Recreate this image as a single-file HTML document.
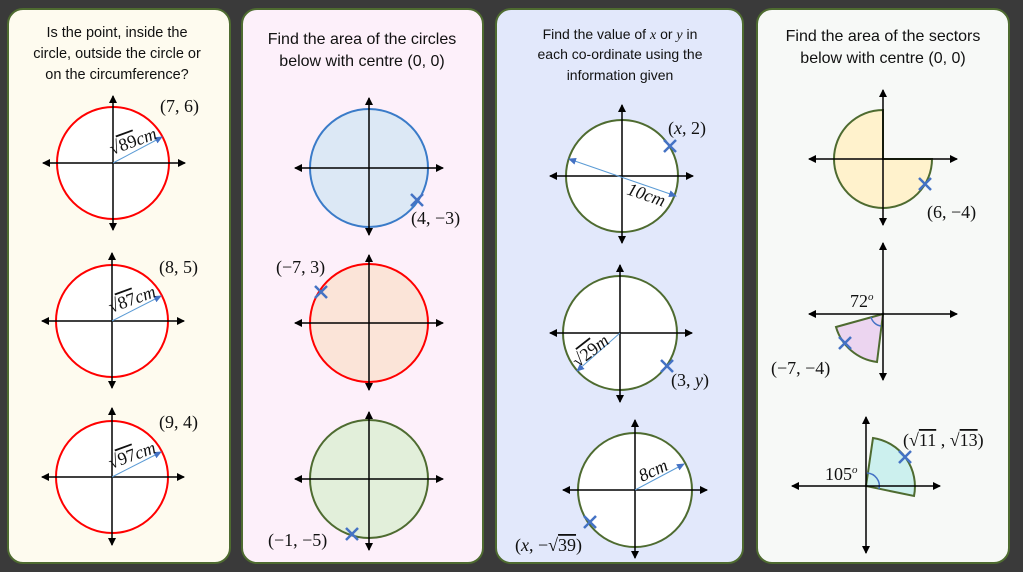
<!DOCTYPE html>
<html><head><meta charset="utf-8"><style>
html,body{margin:0;padding:0;background:#3a3a3a;}
svg{display:block;}
.t{font-family:"Liberation Sans",sans-serif;fill:#111;text-anchor:middle;}
.m{font-family:"Liberation Serif",serif;font-size:18px;fill:#111;}
.ax{stroke:#000;stroke-width:1.5;fill:none;}
.x{stroke:#4472c4;stroke-width:2.5;}
</style></head><body>
<svg width="1023" height="572" viewBox="0 0 1023 572" xmlns="http://www.w3.org/2000/svg">
<defs>
<marker id="ah" markerWidth="8" markerHeight="8" refX="7" refY="4" orient="auto-start-reverse" markerUnits="userSpaceOnUse"><path d="M0,0 L8,4 L0,8 Z" fill="#000"/></marker>
<marker id="bh" markerWidth="8" markerHeight="8" refX="7" refY="4" orient="auto-start-reverse" markerUnits="userSpaceOnUse"><path d="M0,0.5 L8,4 L0,7.5 Z" fill="#4472c4"/></marker>
</defs>
<rect x="0" y="0" width="1023" height="572" fill="#3a3a3a"/>
<rect x="8" y="9" width="222" height="554" rx="15" fill="#fefbef" stroke="#4e6b30" stroke-width="2"/>
<rect x="242" y="9" width="241" height="554" rx="15" fill="#fdf0fa" stroke="#4e6b30" stroke-width="2"/>
<rect x="496" y="9" width="247" height="554" rx="15" fill="#e2e8fb" stroke="#4e6b30" stroke-width="2"/>
<rect x="757" y="9" width="252" height="554" rx="15" fill="#f7f9f7" stroke="#4e6b30" stroke-width="2"/>

<text class="t" font-size="14.5" x="117" y="37">Is the point, inside the</text>
<text class="t" font-size="14.5" x="117" y="58">circle, outside the circle  or</text>
<text class="t" font-size="14.5" x="117" y="79">on the circumference?</text>
<text class="t" font-size="16" x="362" y="44">Find the area of the circles</text>
<text class="t" font-size="16" x="362" y="66">below with centre (0, 0)</text>
<text class="t" font-size="14" x="620" y="39">Find the value of <tspan font-family="Liberation Serif" font-style="italic">x</tspan> or <tspan font-family="Liberation Serif" font-style="italic">y</tspan> in</text>
<text class="t" font-size="14" x="620" y="59">each co-ordinate using the</text>
<text class="t" font-size="14" x="620" y="80">information given</text>
<text class="t" font-size="16" x="883" y="41">Find the area of the sectors</text>
<text class="t" font-size="16" x="883" y="63">below with centre (0, 0)</text>

<g>
<circle cx="113" cy="163" r="56" fill="#fff" stroke="#ff0000" stroke-width="2"/>
<line class="ax" x1="113" y1="230" x2="113" y2="96" marker-end="url(#ah)" marker-start="url(#ah)"/>
<line class="ax" x1="43" y1="163" x2="185" y2="163" marker-end="url(#ah)" marker-start="url(#ah)"/>
<line x1="113" y1="163" x2="162" y2="137" stroke="#5b9bd5" stroke-width="1" marker-end="url(#bh)"/>
<text class="m" x="112" y="155" font-size="16" transform="rotate(-20 112 155)">√<tspan text-decoration="overline">89</tspan><tspan font-style="italic">cm</tspan></text>
<text class="m" x="160" y="112">(7, 6)</text>

<circle cx="112" cy="321" r="56" fill="#fff" stroke="#ff0000" stroke-width="2"/>
<line class="ax" x1="112" y1="388" x2="112" y2="253" marker-end="url(#ah)" marker-start="url(#ah)"/>
<line class="ax" x1="42" y1="321" x2="184" y2="321" marker-end="url(#ah)" marker-start="url(#ah)"/>
<line x1="112" y1="321" x2="161" y2="296" stroke="#5b9bd5" stroke-width="1" marker-end="url(#bh)"/>
<text class="m" x="111" y="313" font-size="16" transform="rotate(-20 111 313)">√<tspan text-decoration="overline">87</tspan><tspan font-style="italic">cm</tspan></text>
<text class="m" x="159" y="273">(8, 5)</text>

<circle cx="112" cy="477" r="56" fill="#fff" stroke="#ff0000" stroke-width="2"/>
<line class="ax" x1="112" y1="545" x2="112" y2="408" marker-end="url(#ah)" marker-start="url(#ah)"/>
<line class="ax" x1="42" y1="477" x2="184" y2="477" marker-end="url(#ah)" marker-start="url(#ah)"/>
<line x1="112" y1="477" x2="161" y2="452" stroke="#5b9bd5" stroke-width="1" marker-end="url(#bh)"/>
<text class="m" x="111" y="469" font-size="16" transform="rotate(-20 111 469)">√<tspan text-decoration="overline">97</tspan><tspan font-style="italic">cm</tspan></text>
<text class="m" x="159" y="428">(9, 4)</text>
</g>

<g>
<circle cx="369" cy="168" r="59" fill="#dce8f5" stroke="#3a7bc8" stroke-width="2"/>
<line class="ax" x1="369" y1="235" x2="369" y2="98" marker-end="url(#ah)" marker-start="url(#ah)"/>
<line class="ax" x1="295" y1="168" x2="443" y2="168" marker-end="url(#ah)" marker-start="url(#ah)"/>
<path class="x" d="M411,194 L423,206 M411,206 L423,194"/>
<text class="m" x="411" y="224">(4, −3)</text>

<circle cx="369" cy="323" r="59" fill="#fbe4d8" stroke="#ff0000" stroke-width="2"/>
<line class="ax" x1="369" y1="390" x2="369" y2="255" marker-end="url(#ah)" marker-start="url(#ah)"/>
<line class="ax" x1="295" y1="323" x2="443" y2="323" marker-end="url(#ah)" marker-start="url(#ah)"/>
<path class="x" d="M315,286 L327,298 M315,298 L327,286"/>
<text class="m" x="276" y="273">(−7, 3)</text>

<circle cx="369" cy="479" r="59" fill="#e2efda" stroke="#4e6b30" stroke-width="2"/>
<line class="ax" x1="369" y1="550" x2="369" y2="412" marker-end="url(#ah)" marker-start="url(#ah)"/>
<line class="ax" x1="295" y1="479" x2="443" y2="479" marker-end="url(#ah)" marker-start="url(#ah)"/>
<path class="x" d="M346,528 L358,540 M346,540 L358,528"/>
<text class="m" x="268" y="546">(−1, −5)</text>
</g>

<g>
<circle cx="622" cy="176" r="56" fill="#fff" stroke="#4e6b30" stroke-width="2"/>
<line class="ax" x1="622" y1="243" x2="622" y2="105" marker-end="url(#ah)" marker-start="url(#ah)"/>
<line class="ax" x1="550" y1="176" x2="693" y2="176" marker-end="url(#ah)" marker-start="url(#ah)"/>
<line x1="569" y1="159" x2="676" y2="196" stroke="#5b9bd5" stroke-width="1" marker-end="url(#bh)" marker-start="url(#bh)"/>
<path class="x" d="M664,140 L676,152 M664,152 L676,140"/>
<text class="m" x="668" y="134">(<tspan font-style="italic">x</tspan>, 2)</text>
<text class="m" x="626" y="194" font-size="16" font-style="italic" transform="rotate(19 626 194)">10cm</text>

<circle cx="620" cy="333" r="57" fill="#fff" stroke="#4e6b30" stroke-width="2"/>
<line class="ax" x1="620" y1="402" x2="620" y2="265" marker-end="url(#ah)" marker-start="url(#ah)"/>
<line class="ax" x1="550" y1="333" x2="692" y2="333" marker-end="url(#ah)" marker-start="url(#ah)"/>
<line x1="620" y1="333" x2="577" y2="371" stroke="#5b9bd5" stroke-width="1" marker-end="url(#bh)"/>
<text class="m" x="578" y="368" font-size="16" transform="rotate(-38 578 368)">√<tspan text-decoration="overline">29</tspan><tspan font-style="italic">m</tspan></text>
<path class="x" d="M661,360 L673,372 M661,372 L673,360"/>
<text class="m" x="671" y="386">(3, <tspan font-style="italic">y</tspan>)</text>

<circle cx="635" cy="490" r="57" fill="#fff" stroke="#4e6b30" stroke-width="2"/>
<line class="ax" x1="635" y1="558" x2="635" y2="420" marker-end="url(#ah)" marker-start="url(#ah)"/>
<line class="ax" x1="563" y1="490" x2="707" y2="490" marker-end="url(#ah)" marker-start="url(#ah)"/>
<line x1="635" y1="490" x2="684" y2="464" stroke="#5b9bd5" stroke-width="1" marker-end="url(#bh)"/>
<text class="m" x="642" y="482" font-size="16" font-style="italic" transform="rotate(-25 642 482)">8cm</text>
<path class="x" d="M584,516 L596,528 M584,528 L596,516"/>
<text class="m" x="515" y="551">(<tspan font-style="italic">x</tspan>, −√<tspan text-decoration="overline">39</tspan>)</text>
</g>

<g>
<path d="M883,159 L883,110 A49,49 0 1 0 932,159 Z" fill="#fff2cc" stroke="#4e6b30" stroke-width="2"/>
<line class="ax" x1="883" y1="225" x2="883" y2="90" marker-end="url(#ah)" marker-start="url(#ah)"/>
<line class="ax" x1="809" y1="159" x2="957" y2="159" marker-end="url(#ah)" marker-start="url(#ah)"/>
<path class="x" d="M919,178 L931,190 M919,190 L931,178"/>
<text class="m" x="927" y="218">(6, −4)</text>

<path d="M883,314 L836,327 A49,49 0 0 0 877,362 Z" fill="#ecd5f0" stroke="#4e6b30" stroke-width="2"/>
<path d="M871,317 A12,12 0 0 0 881,326" fill="none" stroke="#4472c4" stroke-width="1.5"/>
<line class="ax" x1="883" y1="380" x2="883" y2="243" marker-end="url(#ah)" marker-start="url(#ah)"/>
<line class="ax" x1="809" y1="314" x2="957" y2="314" marker-end="url(#ah)" marker-start="url(#ah)"/>
<path class="x" d="M839,337 L851,349 M839,349 L851,337"/>
<text class="m" x="850" y="307">72<tspan font-size="11" dy="-7" font-style="italic">o</tspan></text>
<text class="m" x="771" y="374">(−7, −4)</text>

<path d="M866,486 L873,438 A49,49 0 0 1 914,496 Z" fill="#ccf0ee" stroke="#4e6b30" stroke-width="2"/>
<path d="M867,473 A13,13 0 0 1 879,489" fill="none" stroke="#4472c4" stroke-width="1.5"/>
<line class="ax" x1="866" y1="553" x2="866" y2="417" marker-end="url(#ah)" marker-start="url(#ah)"/>
<line class="ax" x1="792" y1="486" x2="940" y2="486" marker-end="url(#ah)" marker-start="url(#ah)"/>
<path class="x" d="M899,451 L911,463 M899,463 L911,451"/>
<text class="m" x="825" y="480">105<tspan font-size="11" dy="-7" font-style="italic">o</tspan></text>
<text class="m" x="903" y="446">(√<tspan text-decoration="overline">11</tspan> , √<tspan text-decoration="overline">13</tspan>)</text>
</g>
</svg>
</body></html>
